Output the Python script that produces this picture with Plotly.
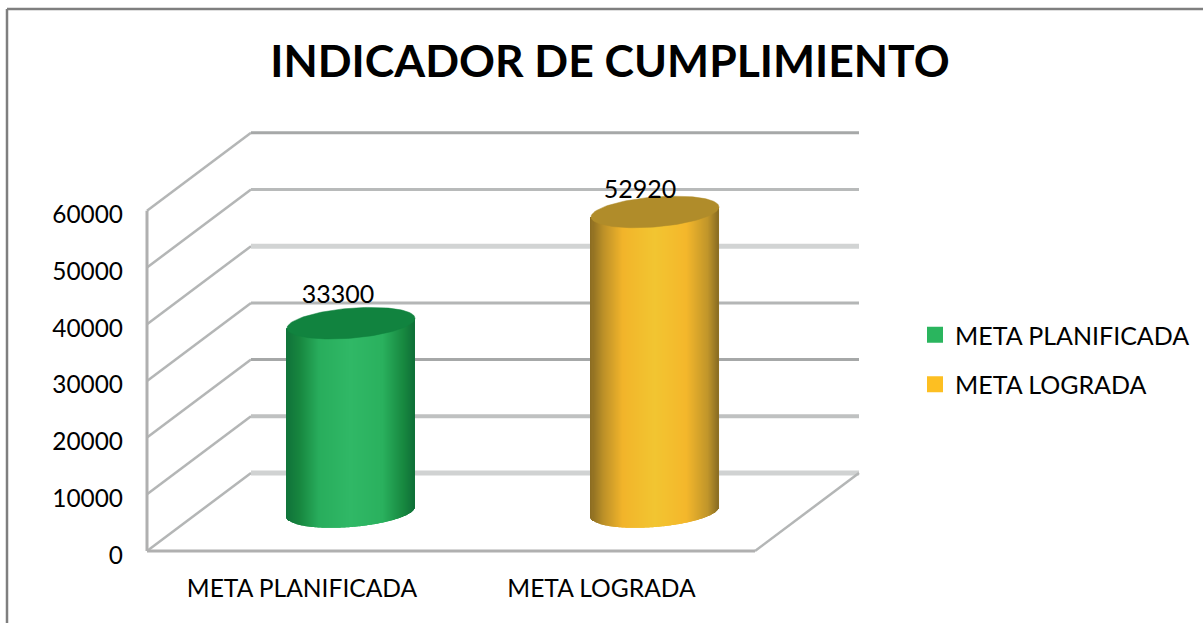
import numpy as np
import plotly.graph_objects as go

# --- data ---
categories = ["META PLANIFICADA", "META LOGRADA"]
values = [33300, 52920]
tick_values = [0, 10000, 20000, 30000, 40000, 50000, 60000]
title_text = "INDICADOR DE CUMPLIMIENTO"

# --- styling ---
FONT = "Lato"
W, H = 1203, 623
PX_X = 304.0            # pixels per category
PX_Y = 56.7 / 10000     # pixels per unit
ML, PR = 144, 862       # plot area in pixels
PT, PB = 120, 557
AX_L, AX_B = 147, 551   # pixel of the value 0 / left of the floor

DEPTH_X = 104 / PX_X
DEPTH_Y = 78 / PX_Y
RAD_X = 64 / PX_X
RAD_Y = 15 / PX_Y
TILT = 5 / PX_Y
LABEL_DROP = 4 / PX_Y   # tick labels sit slightly under their gridline
CAT_LABEL_SHIFT = [3 / PX_X, -1.5 / PX_X]

STOPS = [0, 0.10, 0.25, 0.5, 0.75, 0.92, 1]
SHADES = {
    0: dict(side=["#10733a", "#17863f", "#28ad5c", "#30b866", "#2ab15e", "#17873f", "#0f7038"],
            cap="#11833f", legend="#2ab55e", lab_dx=13, lab_dy=26),
    1: dict(side=["#8a6c22", "#bd9128", "#f2b42a", "#f2c531", "#f4b72b", "#c0952a", "#8a6d22"],
            cap="#b08c2a", legend="#fdbf22", lab_dx=15, lab_dy=20),
}
GRID = {0: ("#d0d2d2", 5), 10000: ("#bfc1c1", 4), 20000: ("#a6a8a8", 3), 30000: ("#b4b6b6", 3),
        40000: ("#d2d4d4", 5), 50000: ("#b8baba", 3), 60000: ("#a6a8a8", 3)}
AXIS_COL = "#b0b0b0"

x_lo = -0.5 - (AX_L - ML) / PX_X
x_hi = x_lo + (PR - ML) / PX_X
y_lo = -(PB - AX_B) / PX_Y
y_hi = y_lo + (PB - PT) / PX_Y
x_front_l, x_front_r = -0.5, -0.5 + len(categories)


def hex2rgb(h):
    return np.array([int(h[i:i + 2], 16) for i in (1, 3, 5)], float)


def shade(u, cols):
    rgb = [np.interp(u, STOPS, [hex2rgb(c)[k] for c in cols]) for k in range(3)]
    return "rgb(%d,%d,%d)" % tuple(int(round(v)) for v in rgb)


def line(x0, y0, x1, y1, col, w):
    return dict(type="line", xref="x", yref="y", x0=x0, y0=y0, x1=x1, y1=y1,
                layer="below", line=dict(color=col, width=w))


shapes = []
for v in tick_values:
    col, w = GRID[v]
    shapes.append(line(x_front_l, v, x_front_l + DEPTH_X, v + DEPTH_Y, "#b4b6b6", 2.5))
    shapes.append(line(x_front_l + DEPTH_X, v + DEPTH_Y, x_front_r + DEPTH_X, v + DEPTH_Y, col, w))
shapes.append(line(x_front_l, 0, x_front_l, max(tick_values), AXIS_COL, 3))
shapes.append(line(x_front_l, 0, x_front_r, 0, AXIS_COL, 3))
shapes.append(line(x_front_r, 0, x_front_r + DEPTH_X, DEPTH_Y, "#b4b6b6", 2.5))

# chart frame (paper coordinates)
pw, ph = PR - ML, PB - PT
fx = lambda p: (p - ML) / pw
fy = lambda p: (PB - p) / ph
for (a, b, c, d) in [(7, 9, 7, H), (7, 9, W, 9)]:
    shapes.append(dict(type="line", xref="paper", yref="paper", x0=fx(a), y0=fy(b), x1=fx(c), y1=fy(d),
                       layer="below", line=dict(color="#7f7f7f", width=2.5)))

fig = go.Figure()

for i, (cat, val) in enumerate(zip(categories, values)):
    cx = i + DEPTH_X / 2
    cy = DEPTH_Y / 2
    st = SHADES[i]
    us = np.linspace(-1, 1, 128)
    us = (us[:-1] + us[1:]) / 2
    xs = cx + us * RAD_X
    base = cy + TILT * us - RAD_Y * np.sqrt(1 - us ** 2)
    top = val + cy + TILT * us
    fig.add_trace(go.Bar(
        x=xs, y=top - base, base=base, width=2 * RAD_X / 127 * 1.05,
        marker=dict(color=[shade((u + 1) / 2, st["side"]) for u in us], line=dict(width=0)),
        showlegend=False, hoverinfo="skip"))
    th = np.linspace(0, 2 * np.pi, 121)
    fig.add_trace(go.Scatter(
        x=cx + RAD_X * np.cos(th),
        y=val + cy + TILT * np.cos(th) + RAD_Y * np.sin(th),
        mode="lines", fill="toself", fillcolor=st["cap"],
        line=dict(color=st["cap"], width=0.5), showlegend=False, hoverinfo="skip"))
    fig.add_trace(go.Scatter(
        x=[cx - st["lab_dx"] / PX_X], y=[val + cy + st["lab_dy"] / PX_Y], mode="text", text=[str(val)],
        textposition="middle center", textfont=dict(family=FONT, size=25, color="#000000"),
        showlegend=False, hoverinfo="skip"))
    fig.add_trace(go.Scatter(
        x=[None], y=[None], mode="markers", name=cat, legendgroup=cat,
        marker=dict(symbol="square", size=17, color=st["legend"])))

fig.update_layout(
    width=W, height=H, autosize=False,
    margin=dict(l=ML, r=W - PR, t=PT, b=H - PB, pad=0),
    paper_bgcolor="white", plot_bgcolor="rgba(0,0,0,0)",
    barmode="overlay",
    title=dict(text=title_text, x=610 / W, y=1 - 61 / H, xanchor="center", yanchor="middle",
               font=dict(family=FONT, size=44.5, color="#000000", weight="bold")),
    xaxis=dict(range=[x_lo, x_hi], tickmode="array",
               tickvals=[k + CAT_LABEL_SHIFT[k] for k in range(len(categories))],
               ticktext=categories, showgrid=False, zeroline=False, showline=False, ticks="",
               ticklabelstandoff=14, tickfont=dict(family=FONT, size=24.6, color="#000000")),
    yaxis=dict(range=[y_lo, y_hi], tickmode="array", tickvals=[v - LABEL_DROP for v in tick_values],
               ticktext=[str(v) for v in tick_values],
               showgrid=False, zeroline=False, showline=False, ticks="",
               ticklabelstandoff=20, tickfont=dict(family=FONT, size=24.4, color="#000000")),
    legend=dict(xref="container", yref="container", x=915 / W, y=1 - 312 / H,
                xanchor="left", yanchor="top",
                font=dict(family=FONT, size=25, color="#000000"),
                traceorder="grouped", tracegroupgap=14, bgcolor="rgba(0,0,0,0)"),
    shapes=shapes,
)

fig.write_html("out.html", config=dict(displayModeBar=False),
               post_script="document.body.style.margin='0';document.documentElement.style.overflow='hidden';")
